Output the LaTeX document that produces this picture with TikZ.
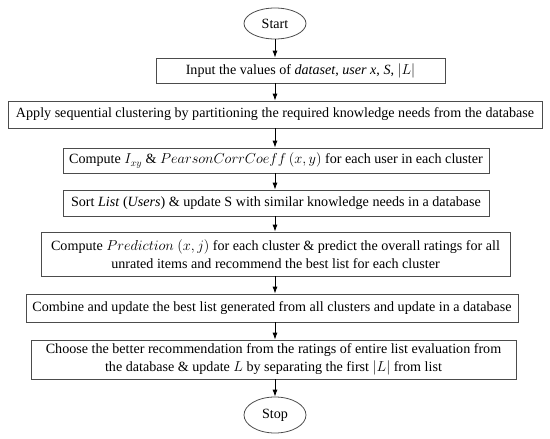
\documentclass[tikz,border=0pt]{standalone}
\usepackage{fontspec}
\setmainfont{Liberation Serif}
\usetikzlibrary{arrows.meta,shapes.geometric}

\begin{document}
\begin{tikzpicture}[
    x=1pt, y=-1pt,
    font=\fontsize{14.1}{18.5}\selectfont,
    term/.style={draw=black!70, line width=0.8pt, ellipse, inner sep=0pt},
    stepbox/.style={draw=black!70, line width=0.8pt, align=center, inner sep=0pt},
    flow/.style={-{Latex[length=7pt,width=5pt]}, line width=0.8pt}
  ]
  \useasboundingbox (0,0) rectangle (550,439);
  \node[term, minimum width=62pt, minimum height=31pt] (start) at (275,23.5) {Start};
  \foreach \name/\x/\y/\w/\h/\lbl in {
      input/300.5/70.5/289/25/{Input the values of \textit{dataset}, \textit{user x}, \textit{S}, $|L|$},
      apply/275/114.5/534/27/{Apply sequential clustering by partitioning the required knowledge needs from the database},
      corr/276/160.5/426/25/{Compute $I_{xy}$ \& $PearsonCorrCoeff\,(x,y)$ for each user in each cluster},
      sort/276/203/426/26/{Sort \textit{List} (\textit{Users}) \& update S with similar knowledge needs in a database},
      pred/275.5/254/469/44/{Compute $Prediction\ (x,j)$ for each cluster \& predict the overall ratings for all\\unrated items and recommend the best list for each cluster},
      comb/272/308/492/28/{Combine and update the best list generated from all clusters and update in a database},
      choose/273.5/359.5/485/39/{Choose the better recommendation from the ratings of entire list evaluation from\\the database \& update $L$ by separating the first $|L|$ from list}} {
    \node[stepbox, minimum width=\w pt, minimum height=\h pt] (\name) at (\x,\y) {\lbl};
  }
  \node[term, minimum width=62pt, minimum height=36pt] (stop) at (275,415) {Stop};
  \foreach \a/\b in {start/input, input/apply, apply/corr, corr/sort, sort/pred,
                     pred/comb, comb/choose, choose/stop}
    \draw[flow] (\a.south -| start) -- (\b.north -| start);
\end{tikzpicture}
\end{document}
